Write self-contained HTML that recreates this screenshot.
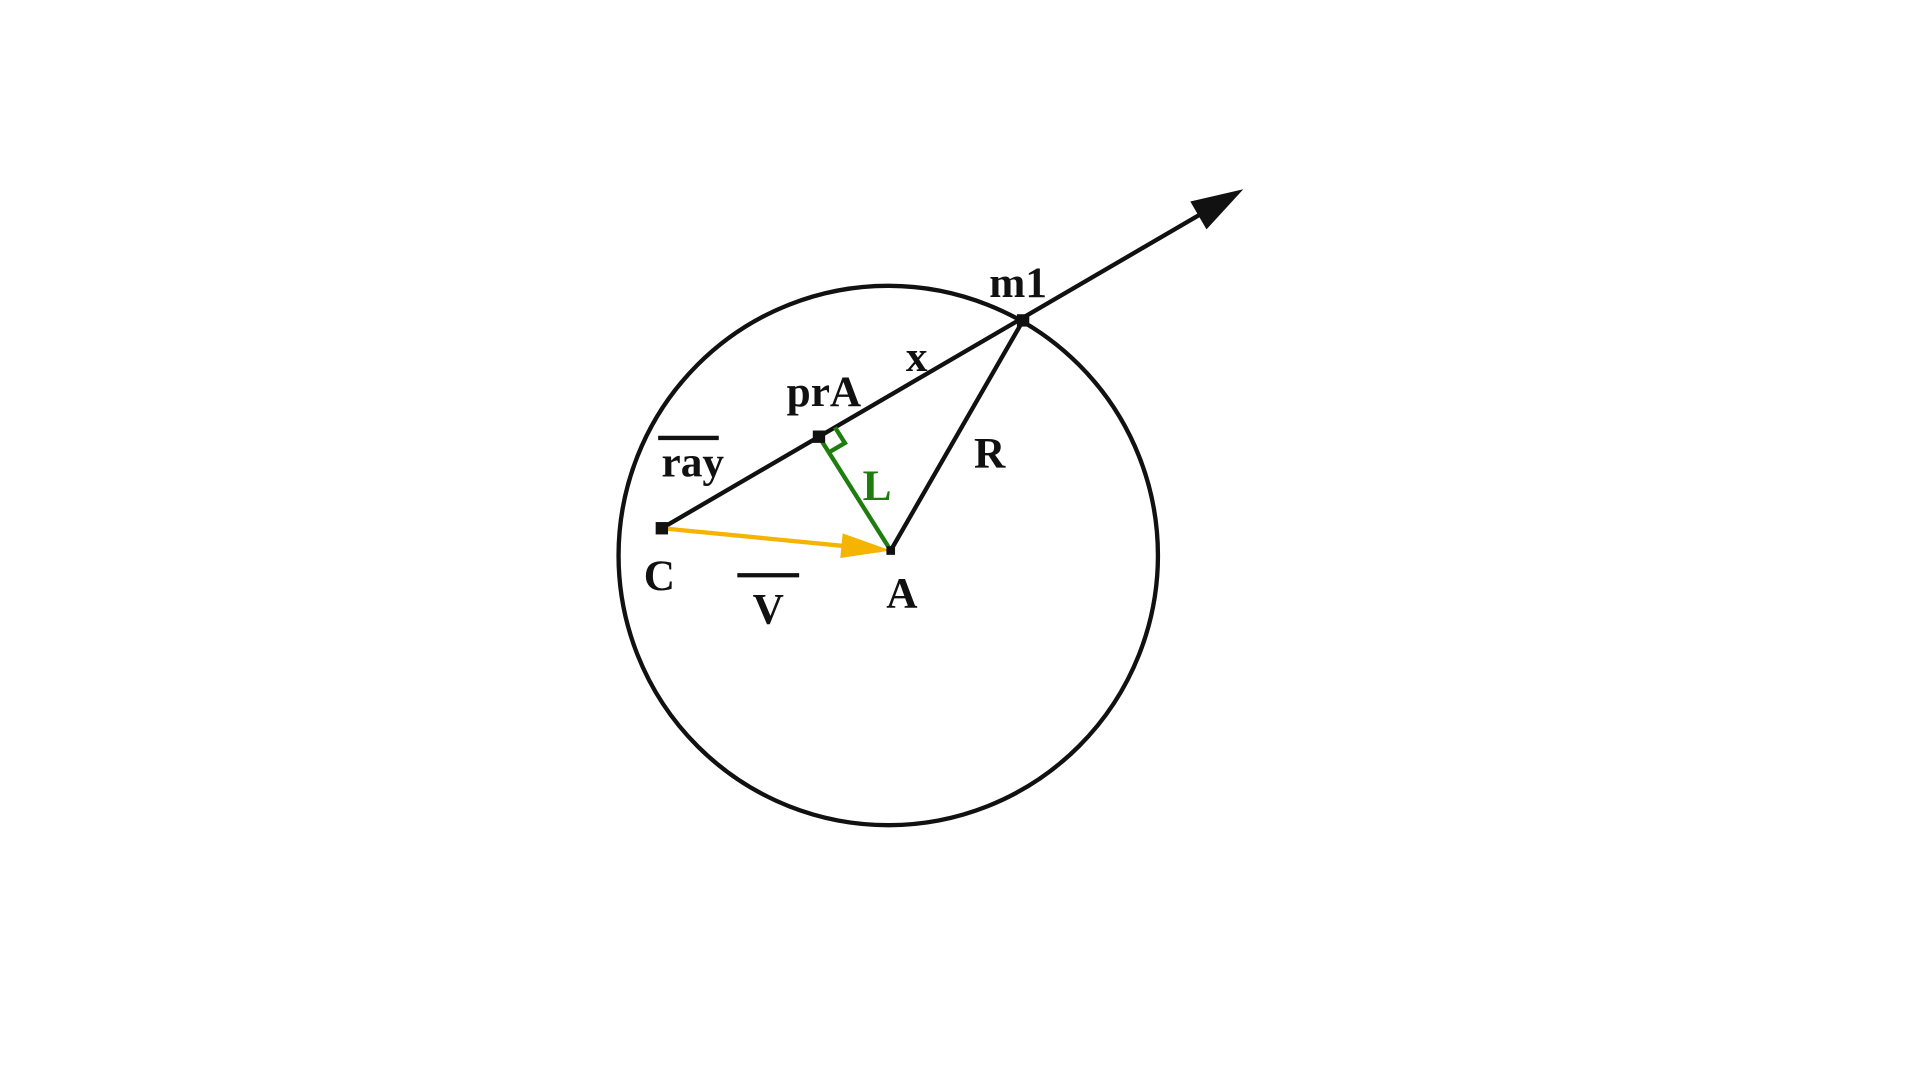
<!DOCTYPE html>
<html>
<head>
<meta charset="utf-8">
<style>
html,body{margin:0;padding:0;background:#fff;width:1920px;height:1080px;overflow:hidden;}
svg{display:block;}
text{font-family:"Liberation Serif",serif;font-size:35px;font-weight:bold;}
</style>
</head>
<body>
<svg width="1920" height="1080" viewBox="0 0 1552 873" preserveAspectRatio="none">
<g id="g" transform="translate(-7,-3)"></g>
</svg>
<script>
const pointNames = ['C','prA','m1','A','tip','O'];
const pointX = [542, 669, 834, 727, 1012, 725];
const pointY = [430, 356, 262, 448, 156, 452];
const radius = 218;

const P = {};
pointNames.forEach((n,i)=>P[n]=[pointX[i],pointY[i]]);
const NS='http://www.w3.org/2000/svg';
const g=document.getElementById('g');
function el(tag,attrs){const e=document.createElementNS(NS,tag);for(const k in attrs)e.setAttribute(k,attrs[k]);g.appendChild(e);return e;}

let e;
e=el('circle',{cx:P.O[0],cy:P.O[1],r:radius,fill:'none',stroke:'#111','stroke-width':3.5});



const dx=P.tip[0]-P.C[0], dy=P.tip[1]-P.C[1], len=Math.hypot(dx,dy), ux=dx/len, uy=dy/len;
e=el('line',{x1:P.C[0],y1:P.C[1],x2:P.tip[0]-ux*30,y2:P.tip[1]-uy*30,stroke:'#111','stroke-width':3.5});


const bx=P.tip[0]-ux*42, by=P.tip[1]-uy*42, nx=-uy, ny=ux;
e=el('polygon',{points:`${P.tip[0]},${P.tip[1]} ${bx+nx*13},${by+ny*13} ${bx-nx*13},${by-ny*13}`,fill:'#111'});



e=el('line',{x1:P.m1[0],y1:P.m1[1],x2:P.A[0],y2:P.A[1],stroke:'#111','stroke-width':3.5});



e=el('line',{x1:P.prA[0],y1:P.prA[1],x2:P.A[0],y2:P.A[1],stroke:'#1e7d0e','stroke-width':3.5});


const ax=P.A[0]-P.prA[0], ay=P.A[1]-P.prA[1], al=Math.hypot(ax,ay), vx=ax/al, vy=ay/al, s=15;
const a1=[P.prA[0]+ux*s,P.prA[1]+uy*s], a2=[a1[0]+vx*s,a1[1]+vy*s], a3=[P.prA[0]+vx*s,P.prA[1]+vy*s];
e=el('polyline',{points:`${a1} ${a2} ${a3}`,fill:'none',stroke:'#1e7d0e','stroke-width':3.5});



const wx=P.A[0]-P.C[0], wy=P.A[1]-P.C[1], wl=Math.hypot(wx,wy), qx=wx/wl, qy=wy/wl;
e=el('line',{x1:P.C[0],y1:P.C[1],x2:P.A[0]-qx*30,y2:P.A[1]-qy*30,stroke:'#f5b400','stroke-width':3.5});


const cx2=P.A[0]-qx*40, cy2=P.A[1]-qy*40;
e=el('polygon',{points:`${P.A[0]},${P.A[1]} ${cx2-qy*10},${cy2+qx*10} ${cx2+qy*10},${cy2-qx*10}`,fill:'#f5b400'});



[['C',5],['prA',5],['m1',5],['A',3.5]].forEach(([n,r])=>{
  const c=el('rect',{x:P[n][0]-r,y:P[n][1]-r,width:2*r,height:2*r,fill:'#111'});
  
  
});

const labelText=['m1','x','prA','ray','L','R','C','V','A'];
const labelX=[830,748,673,567,716,807,540,628,736];
const labelY=[243,303,331,388,407,381,480,507,494];
const labelColor=['#111','#111','#111','#111','#1e7d0e','#111','#111','#111','#111'];
labelText.forEach((t,i)=>{
  const tx=el('text',{x:labelX[i],y:labelY[i],'text-anchor':'middle'});
  tx.style.fill=labelColor[i];
  tx.textContent=t;
  
  
});
e=el('line',{x1:539,y1:357,x2:588,y2:357,stroke:'#111','stroke-width':3.5});


e=el('line',{x1:603,y1:468,x2:653,y2:468,stroke:'#111','stroke-width':3.5});


</script>
</body>
</html>
